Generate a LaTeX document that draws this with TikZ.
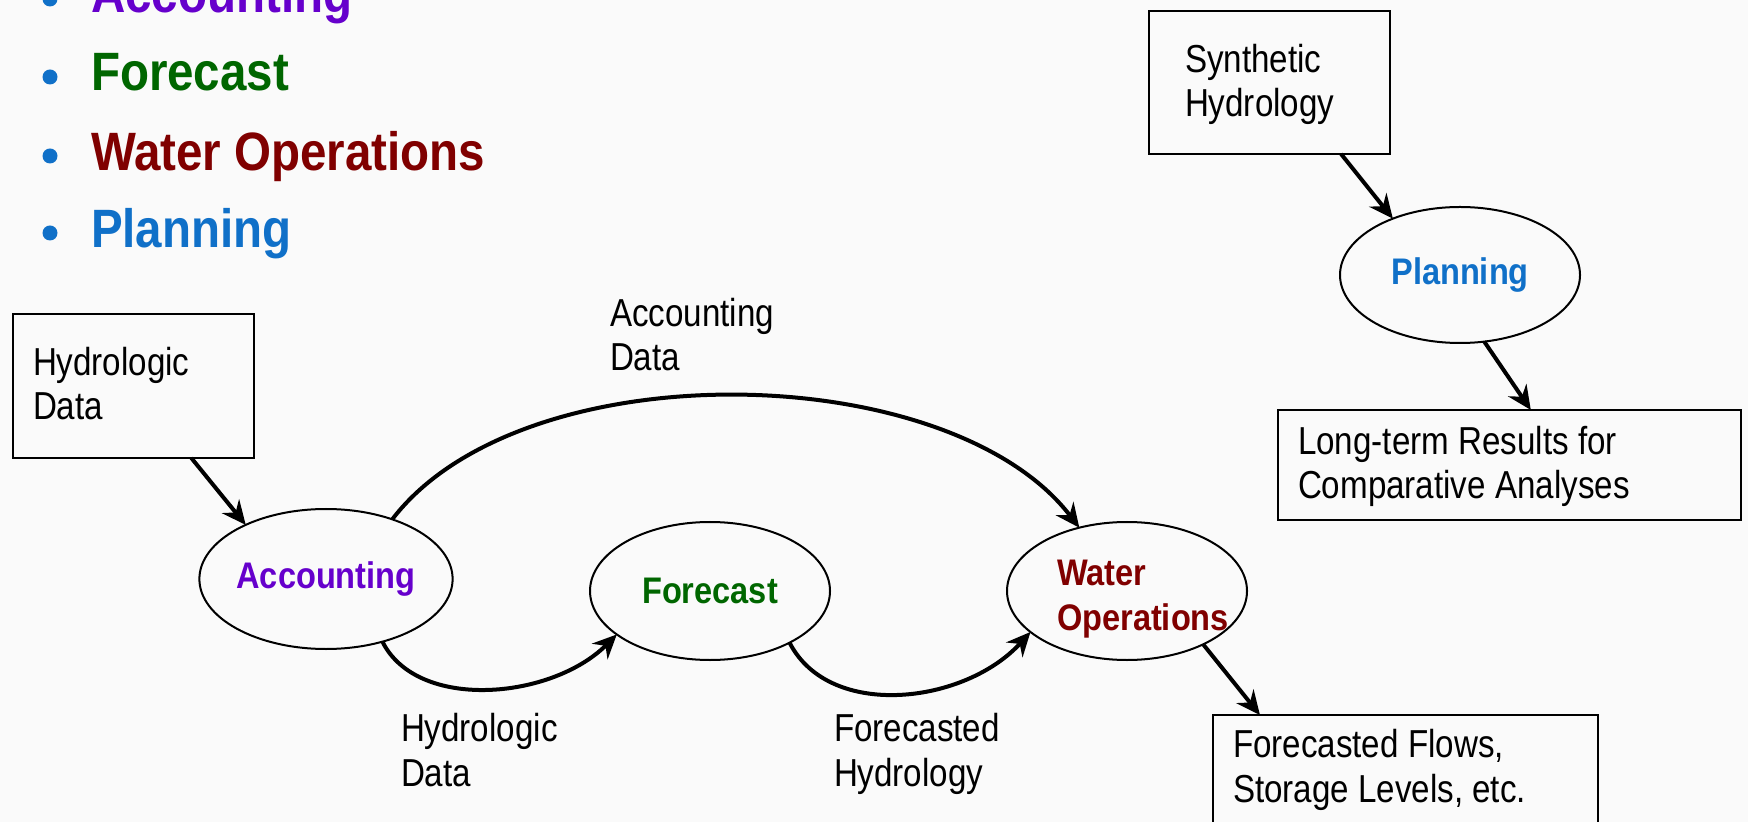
\documentclass[tikz,border=0pt]{standalone}
\usepackage{fontspec}
\setmainfont{Liberation Sans}[FakeStretch=0.88]
\newfontfamily\lblfont{Liberation Sans}[FakeStretch=0.85]
\usetikzlibrary{arrows.meta,shapes.geometric,calc}
\definecolor{bgc}{RGB}{250,250,250}
\definecolor{acccol}{RGB}{102,0,204}
\definecolor{forcol}{RGB}{0,102,0}
\definecolor{wocol}{RGB}{128,0,0}
\definecolor{plancol}{RGB}{16,112,200}
\begin{document}
\begin{tikzpicture}[x=0.5pt,y=-0.5pt,
  every node/.style={inner sep=0pt, outer sep=0pt},
  txt/.style={anchor=base west, align=left, font=\lblfont\fontsize{19.5}{22.25}\selectfont},
  wotxt/.style={anchor=base west, align=left, text=wocol, font=\fontsize{18.5}{22.25}\selectfont\bfseries},
  boxn/.style={draw, line width=1.3pt, rectangle},
  ell/.style={draw, ellipse, line width=1pt, minimum width=120pt, minimum height=69pt, font=\fontsize{18.5}{22.25}\selectfont\bfseries},
  arr/.style={line width=2pt, -{Stealth[length=12pt,width=11pt,inset=4pt]}},
  bul/.style={anchor=base west, font=\fontsize{27}{32}\selectfont\bfseries},
  bdot/.style={circle, fill=plancol, minimum size=7.5pt}
]
\clip (0,0) rectangle (1748,822);
\fill[bgc] (0,0) rectangle (1748,822);

% bullet list
\node[bdot] (d1) at (50,-1) {};
\node[bul, text=acccol] (b1) at (91,13) {Accounting};
\node[bdot] (d2) at (50,77) {};
\node[bul, text=forcol] (b2) at (91,91) {Forecast};
\node[bdot] (d3) at (50,156) {};
\node[bul, text=wocol] (b3) at (91,170.5) {Water Operations};
\node[bdot] (d4) at (50,233) {};
\node[bul, text=plancol] (b4) at (91,247.5) {Planning};

% boxes
\node[boxn, minimum width=120.5pt, minimum height=71.5pt] (synb) at (1269.5,82.5) {};
\node[txt] (synt) at (1185,117) {Synthetic\\Hydrology};
\node[boxn, minimum width=120.5pt, minimum height=72pt] (hydb) at (133.5,386) {};
\node[txt] (hydt) at (33,420) {Hydrologic\\Data};
\node[boxn, minimum width=231.5pt, minimum height=55pt] (ltb) at (1509.5,465) {};
\node[txt] (ltt) at (1298,499) {Long-term Results for\\Comparative Analyses};
\node[boxn, minimum width=192.5pt, minimum height=57.5pt] (flb) at (1405.5,772.5) {};
\node[txt] (flt) at (1233,802) {Forecasted Flows,\\Storage Levels, etc.};

% ellipses
\node[ell, minimum height=68pt, text=plancol] (plan) at (1460,275) {Planning};
\node[ell, minimum height=70pt, text=acccol] (acc) at (326,579) {Accounting};
\node[ell, text=forcol] (fore) at (710,591) {Forecast};
\node[ell] (wo) at (1127,591) {};
\node[wotxt] (wot) at (1057,630) {Water\\Operations};

% connector labels
\node[txt] (lacc) at (610,371) {Accounting\\Data};
\node[txt] (lhyd) at (401,786) {Hydrologic\\Data};
\node[txt] (lfor) at (834,786) {Forecasted\\Hydrology};

% connectors
\draw[arr] ($(synb.south west)!0.797!(synb.south east)$) -- (plan.140);
\draw[arr] (plan.-70) -- ($(ltb.north west)!0.546!(ltb.north east)$);
\draw[arr] ($(hydb.south west)!0.74!(hydb.south east)$) -- (acc.146);
\draw[arr] (wo.-35) -- ($(flb.north west)!0.122!(flb.north east)$);
\draw[arr] (acc.42) .. controls +(130,-170) and +(-130,-170) .. (wo.127);
\draw[arr] (acc.-48) .. controls +(35,70) and +(-65,65) .. (fore.-155);
\draw[arr] (fore.-33) .. controls +(40,78) and +(-65,72) .. (wo.-157);
\end{tikzpicture}
\end{document}
